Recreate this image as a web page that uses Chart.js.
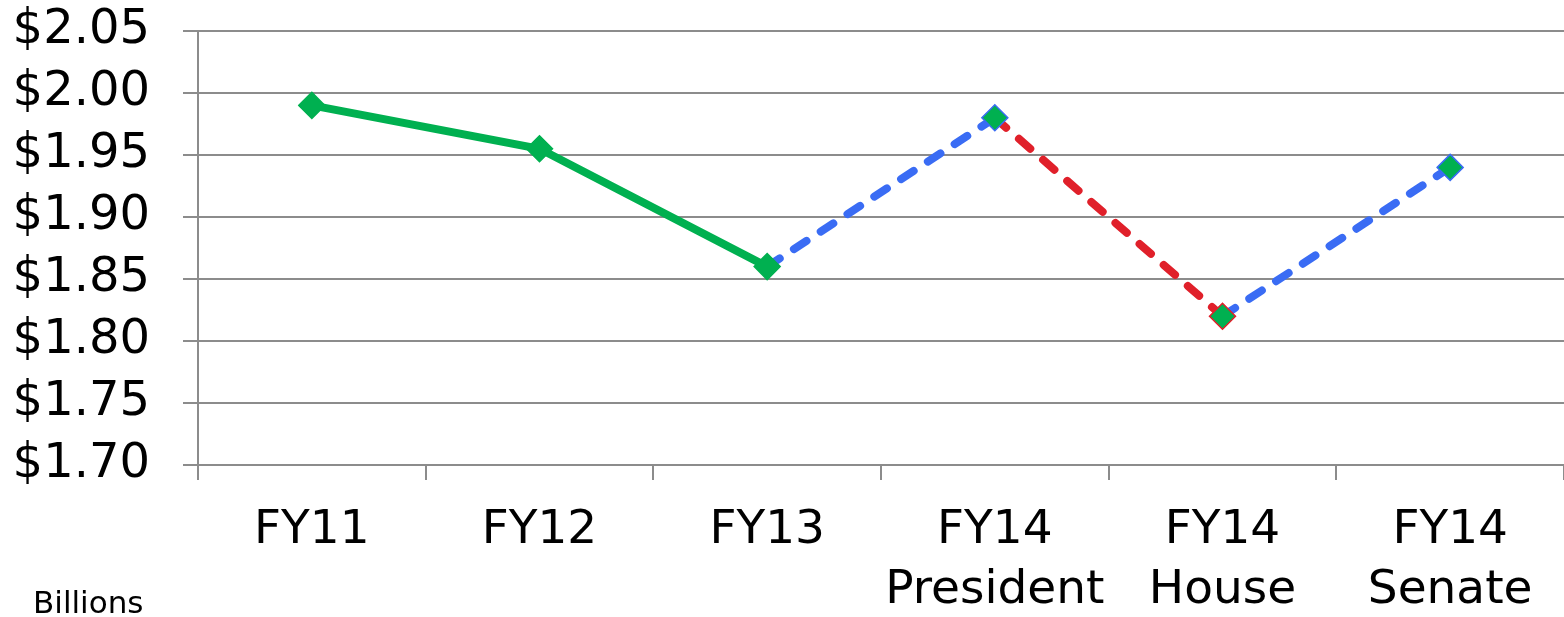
<!DOCTYPE html>
<html>
<head>
<meta charset="utf-8">
<script src="https://cdn.jsdelivr.net/npm/chart.js@4"></script>
<style>
  body { margin: 0; background: #fff; }
  #wrap { position: relative; width: 1564px; height: 617px; }
  #unit { position: absolute; left: 33px; top: 584px; font: 31px "DejaVu Sans", Verdana, sans-serif; color: #000; }
</style>
</head>
<body>
<div id="wrap">
  <canvas id="budgetChart"></canvas>
  <div id="unit">Billions</div>
</div>
<script>
// Funding by fiscal year (billions)
const categories = [["FY11"], ["FY12"], ["FY13"], ["FY14", "President"], ["FY14", "House"], ["FY14", "Senate"]];
const values = [1.99, 1.955, 1.86, 1.98, 1.82, 1.94];
const yTicks = [1.70, 1.75, 1.80, 1.85, 1.90, 1.95, 2.00, 2.05];

const GREEN = "#00b050";
const BLUE = "#3a6cf4";
const RED = "#e0202a";
const GRID = "#8c8c8c";
const FONT = "'DejaVu Sans', Verdana, sans-serif";

// segment look: actuals solid green, projections dashed
function segColor(ctx) {
  const i = ctx.p0DataIndex;
  if (i < 2) return GREEN;
  if (i === 3) return RED;
  return BLUE;
}
function segDash(ctx) {
  return ctx.p0DataIndex < 2 ? [] : [15, 17];
}

const ctx = document.getElementById("budgetChart").getContext("2d");
new Chart(ctx, {
  type: "line",
  data: {
    labels: categories,
    datasets: [{
      data: values,
      borderColor: GREEN,
      borderWidth: 8,
      borderCapStyle: "round",
      tension: 0,
      segment: { borderColor: segColor, borderDash: segDash },
      pointStyle: "rectRot",
      pointRadius: 13,
      pointBackgroundColor: GREEN,
      pointBorderColor: [GREEN, GREEN, GREEN, BLUE, RED, BLUE],
      pointBorderWidth: 1.5
    }]
  },
  options: {
    responsive: true,
    maintainAspectRatio: false,
    animation: false,
    layout: { autoPadding: false, padding: 0 },
    plugins: { legend: { display: false }, tooltip: { enabled: false } },
    scales: {
      x: {
        offset: true,
        grid: { offset: true, drawOnChartArea: false, drawTicks: true, tickLength: 15, color: GRID, lineWidth: 2 },
        border: { display: false },
        ticks: { color: "#000", font: { family: FONT, size: 47, lineHeight: 1.28 }, padding: 21, maxRotation: 0, autoSkip: false },
        afterFit: s => { s.height = 152; }
      },
      y: {
        min: yTicks[0],
        max: yTicks[yTicks.length - 1],
        afterBuildTicks: s => { s.ticks = yTicks.map(v => ({ value: v })); },
        grid: { color: GRID, lineWidth: 2, tickLength: 15 },
        border: { color: GRID, width: 2 },
        ticks: {
          color: "#000",
          font: { family: FONT, size: 48 },
          padding: 33,
          autoSkip: false,
          callback: v => "$" + v.toFixed(2)
        },
        afterFit: s => {
          s.width = 198;
          s.paddingTop = 31;
          s.paddingBottom = 0;
        }
      }
    }
  }
});
</script>
</body>
</html>
